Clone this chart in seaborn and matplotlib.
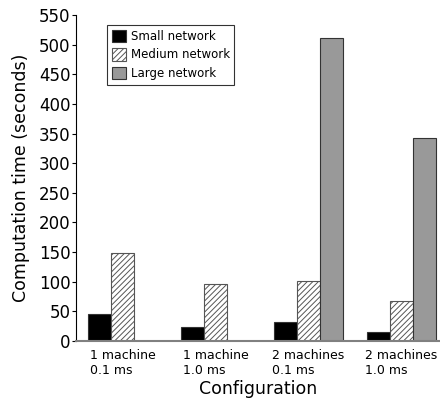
import numpy as np
import pandas as pd
import seaborn as sns
import matplotlib.pyplot as plt

configs = ["1 machine\n0.1 ms", "1 machine\n1.0 ms", "2 machines\n0.1 ms", "2 machines\n1.0 ms"]
networks = ["Small network", "Medium network", "Large network"]
small = [46, 24, 32, 15]
medium = [149, 97, 101, 67]
large = [np.nan, np.nan, 512, 342]

rows = []
for i, c in enumerate(configs):
    for name, vals in zip(networks, [small, medium, large]):
        if not np.isnan(vals[i]):
            rows.append({"config": c, "network": name, "time": vals[i]})
df = pd.DataFrame(rows)

sns.set_style("white")
plt.rcParams['font.family'] = ['DejaVu Sans']
plt.rcParams['hatch.linewidth'] = 0.7
plt.rcParams['text.color'] = 'black'
plt.rcParams['axes.labelcolor'] = 'black'
plt.rcParams['xtick.color'] = 'black'
plt.rcParams['ytick.color'] = 'black'

fig = plt.figure(figsize=(4.4, 4.08), dpi=100)
ax = fig.add_axes([76 / 440, 1 - 341 / 408, 364 / 440, 326 / 408])

palette = {"Small network": "black", "Medium network": "white", "Large network": "#999999"}
sns.barplot(data=df, x="config", y="time", hue="network", order=configs, hue_order=networks,
            palette=palette, width=0.75, edgecolor="#333333", linewidth=0.8,
            saturation=1, ax=ax, legend=False)

# medium bars hatched
for p in ax.containers[1]:
    p.set_hatch("//////")
    p.set_edgecolor("#555555")

ax.set_xlim(-0.5, -0.5 + 364 / 93)
ax.set_ylim(0, 550)
ax.set_yticks(range(0, 551, 50))
ax.tick_params(axis="y", labelsize=12, length=3, width=0.8, direction="out", left=True, pad=1)
ax.set_xticks(range(4))
ax.set_xticklabels(configs, fontsize=9, multialignment="left")
ax.tick_params(axis="x", length=0, pad=6)
ax.set_xticks([0.5, 1.5, 2.5], minor=True)
ax.tick_params(axis="x", which="minor", length=4, width=0.8, direction="inout", color="#555555")

for s in ["top", "right"]:
    ax.spines[s].set_visible(False)
ax.spines["left"].set_color("black")
ax.spines["left"].set_linewidth(0.8)
ax.spines["bottom"].set_color("#808080")
ax.spines["bottom"].set_linewidth(1.5)

ax.set_ylabel("Computation time (seconds)", fontsize=12.5, labelpad=6)
ax.set_xlabel("Configuration", fontsize=12.5, labelpad=2)

handles = [ax.containers[i][-1] for i in range(3)]
leg = ax.legend(handles, networks, loc="upper left", bbox_to_anchor=(0.085, 0.97),
                fontsize=8.5, frameon=True, fancybox=False, edgecolor="black",
                handlelength=1.2, handleheight=1.2, handletextpad=0.4,
                borderpad=0.4, labelspacing=0.5, borderaxespad=0)
leg.get_frame().set_linewidth(0.8)

fig.savefig("out.png", dpi=100)
